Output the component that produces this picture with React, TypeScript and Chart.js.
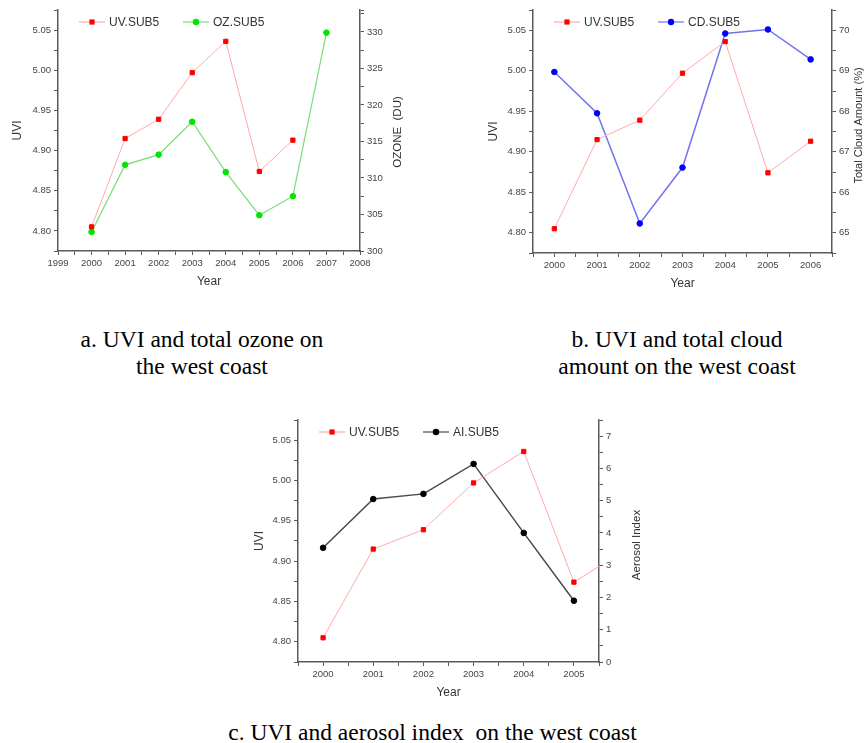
import React, { useEffect, useRef } from 'react';
import { Chart, registerables } from 'chart.js';

Chart.register(...registerables);

// ---------------- data ----------------
const YEARS = [2000, 2001, 2002, 2003, 2004, 2005, 2006, 2007];
const UV_SUB5 = [4.805, 4.915, 4.939, 4.997, 5.036, 4.874, 4.913];
const OZ_SUB5 = [302.6, 311.8, 313.2, 317.7, 310.8, 304.9, 307.5, 329.9];
const CD_SUB5 = [68.97, 67.95, 65.23, 66.61, 69.92, 70.02, 69.28];
const AI_SUB5 = [3.54, 5.05, 5.21, 6.14, 4.0, 1.9];

const UVI_TICKS = [4.8, 4.85, 4.9, 4.95, 5.0, 5.05];
const OZONE_TICKS = [300, 305, 310, 315, 320, 325, 330];
const CLOUD_TICKS = [65, 66, 67, 68, 69, 70];
const AEROSOL_TICKS = [0, 1, 2, 3, 4, 5, 6, 7];
const YEAR_TICKS_A = [1999, 2000, 2001, 2002, 2003, 2004, 2005, 2006, 2007, 2008];
const YEAR_TICKS_B = [2000, 2001, 2002, 2003, 2004, 2005, 2006];
const YEAR_TICKS_C = [2000, 2001, 2002, 2003, 2004, 2005];

const CAPTION_A = ['a. UVI and total ozone on', 'the west coast'];
const CAPTION_B = ['b. UVI and total cloud', 'amount on the west coast'];
const CAPTION_C = ['c. UVI and aerosol index  on the west coast'];

// ---------------- styles ----------------
const FONT = "'Liberation Sans', Arial, sans-serif";
const SERIF = "'Liberation Serif', 'Times New Roman', serif";
const AXIS = '#5a5a5a';
const TICK_TXT = '#454545';
const TITLE_TXT = '#333333';

const RED = '#ff0000';
const RED_LINE = '#ffaaaa';
const GREEN = '#00e600';
const GREEN_LINE = '#77dd77';
const BLUE = '#0000ff';
const BLUE_LINE = '#7373f2';
const BLACK = '#000000';
const BLACK_LINE = '#4a4a4a';

const toPoints = (vals: number[]) => vals.map((v, i) => ({ x: YEARS[i], y: v }));

const pick = (list: number[], digits: number) => (value: any) => {
  const v = Number(value);
  const hit = list.find((t) => Math.abs(t - v) < 1e-6);
  return hit === undefined ? '' : hit.toFixed(digits);
};

type LegendItem = { label: string; line: string; marker: string; style: 'rect' | 'circle'; dx: number };

function legendPlugin(items: LegendItem[], dy: number) {
  return {
    id: 'inlineLegend',
    afterDraw(chart: any) {
      const { ctx, chartArea } = chart;
      ctx.save();
      const y = chartArea.top + dy;
      items.forEach((it) => {
        const x0 = chartArea.left + it.dx;
        ctx.strokeStyle = it.line;
        ctx.lineWidth = 1.2;
        ctx.beginPath();
        ctx.moveTo(x0, y);
        ctx.lineTo(x0 + 26, y);
        ctx.stroke();
        ctx.fillStyle = it.marker;
        if (it.style === 'rect') {
          ctx.fillRect(x0 + 13 - 2.6, y - 2.6, 5.2, 5.2);
        } else {
          ctx.beginPath();
          ctx.arc(x0 + 13, y, 3.2, 0, Math.PI * 2);
          ctx.fill();
        }
        ctx.fillStyle = TITLE_TXT;
        ctx.font = `12px ${FONT}`;
        ctx.textAlign = 'left';
        ctx.textBaseline = 'middle';
        ctx.fillText(it.label, x0 + 30, y + 0.5);
      });
      ctx.restore();
    },
  };
}

function rightTitlePlugin(text: string, dx: number, dy: number, size: number) {
  return {
    id: 'rightTitle',
    afterDraw(chart: any) {
      const { ctx, chartArea } = chart;
      ctx.save();
      ctx.translate(chartArea.right + dx, (chartArea.top + chartArea.bottom) / 2 + dy);
      ctx.rotate(-Math.PI / 2);
      ctx.font = `${size}px ${FONT}`;
      ctx.fillStyle = TITLE_TXT;
      ctx.textAlign = 'center';
      ctx.textBaseline = 'middle';
      ctx.fillText(text, 0, 0);
      ctx.restore();
    },
  };
}

type Spec = {
  xMin: number; xMax: number; xTicks: number[];
  y2Min: number; y2Max: number; y2Step: number; y2Ticks: number[];
  second: { label: string; data: number[]; line: string; marker: string; width: number };
  leftW: number; rightW: number; bottomH: number; topPad: number;
  yTitlePad: number; xTitlePad: number;
  y2Title: string; y2dx: number; y2dy: number; y2Size: number;
};

const tickFont = { family: FONT, size: 9.5 };

function axisBase() {
  return {
    border: { display: true, color: AXIS, width: 1.5 },
    grid: { display: true, drawOnChartArea: false, drawTicks: true, tickLength: 4, tickColor: AXIS, tickWidth: 1 },
  };
}

function buildConfig(spec: Spec): any {
  return {
    type: 'line',
    data: {
      datasets: [
        {
          label: 'UV.SUB5',
          data: toPoints(UV_SUB5),
          yAxisID: 'y',
          borderColor: RED_LINE,
          borderWidth: 1,
          pointStyle: 'rect',
          pointRadius: 3,
          pointBorderWidth: 1,
          pointBackgroundColor: RED,
          pointBorderColor: RED,
          tension: 0,
        },
        {
          label: spec.second.label,
          data: toPoints(spec.second.data),
          yAxisID: 'y2',
          borderColor: spec.second.line,
          borderWidth: spec.second.width,
          pointStyle: 'circle',
          pointRadius: 2.8,
          pointBorderWidth: 1,
          pointBackgroundColor: spec.second.marker,
          pointBorderColor: spec.second.marker,
          tension: 0,
        },
      ],
    },
    options: {
      responsive: false,
      animation: false,
      devicePixelRatio: 1,
      layout: { padding: { top: spec.topPad, left: 0, right: 0, bottom: 0 } },
      plugins: { legend: { display: false }, tooltip: { enabled: false } },
      scales: {
        x: {
          type: 'linear',
          position: 'bottom',
          min: spec.xMin,
          max: spec.xMax,
          ...axisBase(),
          ticks: {
            stepSize: 0.5,
            autoSkip: false,
            maxRotation: 0,
            minRotation: 0,
            padding: 3,
            color: TICK_TXT,
            font: tickFont,
            callback: pick(spec.xTicks, 0),
          },
          title: {
            display: true,
            text: 'Year',
            color: TITLE_TXT,
            font: { family: FONT, size: 12 },
            padding: { top: 0, bottom: spec.xTitlePad },
          },
          afterFit: (s: any) => { s.height = spec.bottomH; },
        },
        y: {
          type: 'linear',
          position: 'left',
          min: 4.775,
          max: 5.075,
          ...axisBase(),
          ticks: {
            stepSize: 0.025,
            autoSkip: false,
            padding: 3,
            color: TICK_TXT,
            font: tickFont,
            callback: pick(UVI_TICKS, 2),
          },
          title: {
            display: true,
            text: 'UVI',
            color: TITLE_TXT,
            font: { family: FONT, size: 12 },
            padding: { top: spec.yTitlePad, bottom: 0 },
          },
          afterFit: (s: any) => { s.width = spec.leftW; },
        },
        y2: {
          type: 'linear',
          position: 'right',
          min: spec.y2Min,
          max: spec.y2Max,
          bounds: 'data',
          ...axisBase(),
          ticks: {
            stepSize: spec.y2Step,
            autoSkip: false,
            padding: 3,
            color: TICK_TXT,
            font: tickFont,
            callback: pick(spec.y2Ticks, 0),
          },
          afterFit: (s: any) => { s.width = spec.rightW; },
        },
      },
    },
    plugins: [
      legendPlugin(
        [
          { label: 'UV.SUB5', line: RED_LINE, marker: RED, style: 'rect', dx: 21 },
          { label: spec.second.label, line: spec.second.line, marker: spec.second.marker, style: 'circle', dx: 125 },
        ],
        12
      ),
      rightTitlePlugin(spec.y2Title, spec.y2dx, spec.y2dy, spec.y2Size),
    ],
  };
}

const SPEC_A: Spec = {
  xMin: 1999, xMax: 2008, xTicks: YEAR_TICKS_A,
  y2Min: 300, y2Max: 333, y2Step: 2.5, y2Ticks: OZONE_TICKS,
  second: { label: 'OZ.SUB5', data: OZ_SUB5, line: GREEN_LINE, marker: GREEN, width: 1.2 },
  leftW: 58, rightW: 60, bottomH: 49, topPad: 10,
  yTitlePad: 10, xTitlePad: 11,
  y2Title: 'OZONE  (DU)', y2dx: 38, y2dy: 1.5, y2Size: 11.5,
};

const SPEC_B: Spec = {
  xMin: 1999.5, xMax: 2006.5, xTicks: YEAR_TICKS_B,
  y2Min: 64.5, y2Max: 70.5, y2Step: 0.5, y2Ticks: CLOUD_TICKS,
  second: { label: 'CD.SUB5', data: CD_SUB5, line: BLUE_LINE, marker: BLUE, width: 1.5 },
  leftW: 93, rightW: 32, bottomH: 47, topPad: 10,
  yTitlePad: 46, xTitlePad: 9,
  y2Title: 'Total Cloud Amount (%)', y2dx: 27, y2dy: -6, y2Size: 11,
};

const SPEC_C: Spec = {
  xMin: 1999.5, xMax: 2005.5, xTicks: YEAR_TICKS_C,
  y2Min: 0, y2Max: 7.5, y2Step: 0.5, y2Ticks: AEROSOL_TICKS,
  second: { label: 'AI.SUB5', data: AI_SUB5, line: BLACK_LINE, marker: BLACK, width: 1.5 },
  leftW: 58, rightW: 61, bottomH: 48, topPad: 10,
  yTitlePad: 12, xTitlePad: 10,
  y2Title: 'Aerosol Index', y2dx: 38, y2dy: 4, y2Size: 11.5,
};

function ChartCanvas({ spec, left, top, width, height }: { spec: Spec; left: number; top: number; width: number; height: number }) {
  const ref = useRef<HTMLCanvasElement>(null);
  useEffect(() => {
    const chart = new Chart(ref.current as HTMLCanvasElement, buildConfig(spec));
    return () => chart.destroy();
  }, [spec]);
  return (
    <canvas
      ref={ref}
      width={width}
      height={height}
      style={{ position: 'absolute', left, top, width, height }}
    />
  );
}

function Caption({ lines, cx, top }: { lines: string[]; cx: number; top: number }) {
  return (
    <div
      style={{
        position: 'absolute',
        left: cx - 250,
        top,
        width: 500,
        textAlign: 'center',
        fontFamily: SERIF,
        fontSize: 23.5,
        lineHeight: '27px',
        color: '#000',
        whiteSpace: 'pre',
      }}
    >
      {lines.map((l, i) => (
        <div key={i}>{l}</div>
      ))}
    </div>
  );
}

export default function App() {
  return (
    <div
      style={{
        position: 'absolute',
        left: 0,
        top: 0,
        width: 864,
        height: 743,
        overflow: 'hidden',
        background: '#ffffff',
      }}
    >
      <ChartCanvas spec={SPEC_A} left={0} top={0} width={420} height={300} />
      <ChartCanvas spec={SPEC_B} left={440} top={0} width={424} height={300} />
      <ChartCanvas spec={SPEC_C} left={240} top={410} width={420} height={300} />
      <Caption lines={CAPTION_A} cx={202} top={326} />
      <Caption lines={CAPTION_B} cx={677} top={326} />
      <Caption lines={CAPTION_C} cx={432.5} top={719} />
    </div>
  );
}
